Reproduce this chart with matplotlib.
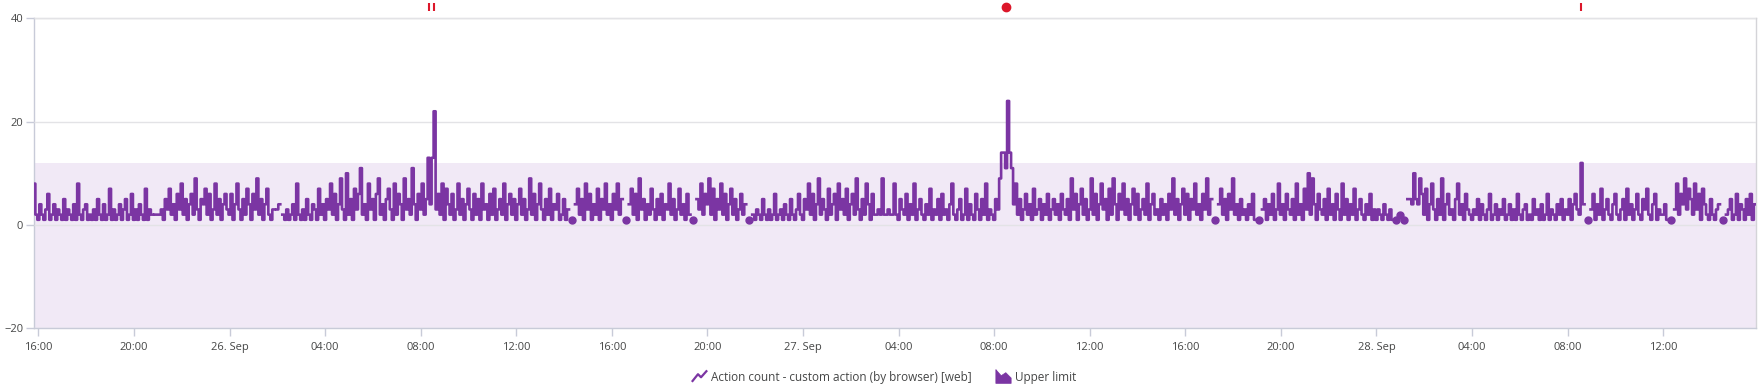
import datetime as dt
import numpy as np
import matplotlib
matplotlib.use('Agg')
import matplotlib.pyplot as plt
import matplotlib.dates as mdates
from matplotlib.lines import Line2D
from matplotlib.path import Path
from matplotlib.ticker import FuncFormatter
import matplotlib.transforms as mtransforms

N = None  # gap in the series

# action count, one value per 5 minutes
d25_pm = [8, 2,
          1, 4, 2, 1, 3, 6, 1, 2, 4, 1, 3, 2, 1, 5, 1, 3, 2, 1, 4, 1, 8, 2, 1, 3, 4, 1, 2, 1, 3, 1, 5, 2, 1, 4, 1, 2, 7, 1, 3, 1, 2, 4, 1, 3, 5, 1, 2, 6,
          1, 3, 1, 4, 2, 1, 7, 1, 3, 2, N, 2, 2, 2, 3,
          1, 5, 3, 7, 2, 4, 1, 6, 3, 8, 2, 5, 1, 4, 6, 2, 9, 3, 1, 5, 4, 7, 2, 6, 1, 3, 8, 2, 5, 1, 4, 6, 3]
d26_night = [2, 6, 1, 4, 8, 3, 1, 5, 2, 7, 4, 1, 6, 3, 9, 2, 5, 1, 4, 7, 2,
             1, 3, N, 3, 4, N, 2,
             1, 3, 1, 2, 4, 1, 8, 2, 1, 3, 1, 5, 2, 1, 4, 3, 1, 7, 2, 4,
             1, 5, 3, 8, 2, 6, 1, 4, 9, 3, 1, 10, 2, 5, 1, 7, 3, 6, 11, 2, 4, 1, 8, 3, 5, 1, 6, 9, 2, 4, 1, 5, 7, 3, 1, 8, 2, 6, 4, 1, 9, 3, 5, 2, 11, 4, 1, 6]
d26_day = [3, 8, 2, 5, 13, 4, 13, 22, 3, 6, 2, 8,
           1, 7, 4, 2, 6, 1, 3, 8, 2, 5, 1, 4, 7, 3, 1, 6, 2, 5, 1, 8, 3, 4, 1, 6, 2, 7, 1, 3, 5, 2, 8, 1, 4, 6, 2, 5,
           1, 4, 7, 2, 5, 1, 3, 9, 2, 6, 1, 4, 8, 3, 1, 5, 2, 7, 1, 4, 3, 6, 1, 2, 5, 1, 3, N, 1, N, 4, 7, 2, 5, 1, 8, 3, 6, 1, 4, 2, 7, 1, 5, 3, 8, 2, 4]
d26_eve = [1, 6, 3, 8, 2, 5, N, 1, N, 4, 7, 2, 6, 1, 9, 3, 5, 1, 4, 2, 7, 3, 1, 5, 2, 6, 1, 4, 3, 8, 2, 5, 1, 3, 7, 2, 4, 1, 6, 2, N, 1, N, 5, 3, 8, 2, 6,
           4, 9, 2, 7, 1, 5, 3, 8, 2, 6, 1, 4, 7, 2, 5, 1, 3, 6, 2, 4, N, 1, N, 2, 1, 3, 2, 1, 5, 2, 1, 3, 1, 2, 6, 1, 2, 3, 1, 4, 2, 1, 5, 2, 1, 3, 6, 2]
d27_night = [1, 5, 3, 8, 2, 6, 1, 4, 9, 2, 5, 3, 1, 7, 2, 4, 6, 1, 8, 3, 5, 2, 7, 1, 4, 6, 2, 9, 3, 1, 5, 2, 8, 4, 1, 6,
             2, 2, 3, 2, 9, 2, 2, 3, 2, 2, 8, 2,
             1, 5, 3, 2, 6, 1, 4, 2, 8, 1, 3, 5, 2, 1, 4, 2, 7, 1, 3, 2, 5, 1, 6, 2, 3, 1, 4, 8, 2, 1, 3, 5, 1, 2, 7, 1, 4, 2, 1, 6, 3, 1, 5, 2, 8, 1, 3, 2]
d27_day = [1, 5, 3, 9, 14, 14, 11, 24, 14, 11, 4, 8,
           2, 5, 1, 3, 6, 2, 4, 1, 7, 2, 3, 5, 1, 4, 2, 6, 1, 3, 5, 2, 4, 1, 6, 3, 2, 5, 1, 9, 3, 6, 1, 4, 7, 2, 5, 1,
           3, 9, 2, 6, 1, 4, 8, 3, 5, 1, 7, 2, 9, 4, 1, 6, 3, 8, 2, 5, 1, 4, 7, 2, 6, 1, 3, 5, 2, 8, 1, 4, 6, 2, 3, 1, 5, 2, 4, 1, 6, 3, 9, 2, 5, 1, 4, 7]
d27_eve = [2, 6, 1, 5, 3, 8, 2, 4, 1, 6, 3, 9, 2, 5, N, 1, N, 4, 7, 2, 5, 1, 6, 3, 9, 2, 4, 1, 5, 2, 3, 1, 4, 2, 6, 1, N, 1, N, 3, 5, 1, 4, 2, 6, 1, 3, 8,
           2, 4, 1, 6, 3, 2, 5, 1, 8, 2, 4, 1, 7, 3, 10, 2, 9, 4, 1, 6, 3, 2, 5, 1, 7, 2, 4, 1, 6, 3, 1, 8, 2, 5, 1, 4, 2, 7, 1, 3, 5, 2, 1, 4, 2, 6, 1, 3]
d28_night = [1, 3, 2, 1, 4, 2, 1, 3, 1, N, 1, N, 2, N, 1, N, 5, 5, 4, 10, 5, 4, 9, 6,
             2, 7, 1, 4, 8, 3, 1, 5, 2, 9, 1, 4, 6, 2, 3, 1, 5, 8, 2, 4, 1, 6, 3, 2,
             1, 3, 2, 5, 1, 4, 2, 1, 3, 6, 1, 2, 4, 1, 3, 2, 5, 1, 2, 4, 1, 3, 1, 6, 2, 1, 3, 4, 1, 2, 1, 5, 2, 3, 1, 4, 1, 2, 6, 1, 3, 2, 1, 4, 2, 5, 1, 3]
d28_day = [2, 5, 1, 4, 6, 3, 2, 12, 4, N, 1, N,
           3, 6, 1, 4, 2, 7, 1, 3, 5, 2, 1, 4, 6, 2, 1, 3, 5, 1, 7, 2, 4, 1, 3, 6, 2, 1, 5, 3, 7, 2, 1, 4, 6, 1, 3, 2,
           2, 4, 1, N, 1, N, 3, 8, 2, 6, 4, 9, 3, 7, 5, 2, 8, 3, 6, 1, 7, 4, 2, 1, 5, 2, 1, 3, 4, N, 1, N, 2, 3, 5, 1, 2, 6, 1, 4, 3, 1, 5, 2, 6, 1, 4]

block_starts = [dt.datetime(2023, 9, 25, 15, 50), dt.datetime(2023, 9, 26, 0, 0),
                dt.datetime(2023, 9, 26, 8, 0), dt.datetime(2023, 9, 26, 16, 0),
                dt.datetime(2023, 9, 27, 0, 0), dt.datetime(2023, 9, 27, 8, 0),
                dt.datetime(2023, 9, 27, 16, 0), dt.datetime(2023, 9, 28, 0, 0),
                dt.datetime(2023, 9, 28, 8, 0)]
blocks = [d25_pm, d26_night, d26_day, d26_eve, d27_night, d27_day, d27_eve, d28_night, d28_day]

upper_limit = 11.9
event_times = [dt.datetime(2023, 9, 26, 8, 20), dt.datetime(2023, 9, 26, 8, 34),
               dt.datetime(2023, 9, 27, 8, 29), dt.datetime(2023, 9, 28, 8, 34)]
event_kinds = ['tick', 'tick', 'dot', 'tick']

x_start = dt.datetime(2023, 9, 25, 15, 50)
x_end = dt.datetime(2023, 9, 28, 15, 53)

PURPLE = '#7b35a3'
BAND = '#f1e9f6'
RED = '#dc172a'
GRID = '#e3e3e6'
TEXT = '#454646'

times, values = [], []
for start, vals in zip(block_starts, blocks):
    for i, v in enumerate(vals):
        times.append(start + dt.timedelta(minutes=5 * i))
        values.append(np.nan if v is None else v)
times = np.array(times)
values = np.array(values, dtype=float)

# isolated points (gaps on both sides) get a dot like the original
valid = ~np.isnan(values)
prev_ok = np.r_[False, valid[:-1]]
next_ok = np.r_[valid[1:], False]
isolated = valid & ~prev_ok & ~next_ok

plt.rcParams['font.family'] = ['Open Sans', 'DejaVu Sans']

fig = plt.figure(figsize=(17.62, 3.86), dpi=100)
ax = fig.add_axes([0.0195, 0.1495, 0.9771, 0.8031])

ax.fill_between([x_start, x_end], [-20, -20], [upper_limit, upper_limit],
                color=BAND, lw=0, zorder=1)
ax.plot(times, values, color=PURPLE, lw=1.9, zorder=3, drawstyle='steps-mid')
ax.plot(times[isolated], values[isolated], 'o', color=PURPLE, ms=5, zorder=3)

ax.set_xlim(x_start, x_end)
ax.set_ylim(-20, 40)
ax.set_yticks([-20, 0, 20, 40])
ax.yaxis.grid(True, color=GRID, lw=1, zorder=0)
ax.set_axisbelow(False)
for g in ax.get_ygridlines():
    g.set_zorder(2)

ax.xaxis.set_major_locator(mdates.HourLocator(byhour=[0, 4, 8, 12, 16, 20]))


def fmt_time(x, pos):
    d = mdates.num2date(x)
    if d.hour == 0:
        return d.strftime('%d. %b')
    return d.strftime('%H:%M')


ax.xaxis.set_major_formatter(FuncFormatter(fmt_time))
ax.tick_params(axis='x', colors='#c8cbd8', labelcolor=TEXT, labelsize=8, length=6, width=1, pad=4)
ax.tick_params(axis='y', colors='#c8cbd8', labelcolor=TEXT, labelsize=8, length=6, width=1, pad=2)

for side in ['left', 'bottom']:
    ax.spines[side].set_color('#c8cbd8')
for side in ['top', 'right']:
    ax.spines[side].set_color('#d4d4d8')
for s in ax.spines.values():
    s.set_linewidth(1)

# problem / event markers above the plot area
trans = mtransforms.blended_transform_factory(ax.transData, ax.transAxes)
for t, kind in zip(event_times, event_kinds):
    if kind == 'dot':
        ax.plot([t], [1.038], 'o', color=RED, ms=6, transform=trans, clip_on=False)
    else:
        ax.plot([t, t], [1.025, 1.05], color=RED, lw=1.5, transform=trans, clip_on=False,
                solid_capstyle='butt')

# legend icons: small zigzag for the line, little mountain for the area
zigzag = Path([(-1, -0.7), (-0.2, 0.3), (0.2, -0.1), (1, 0.8)])
mountain = Path([(-1, 0.9), (-0.3, 0.1), (0.3, 0.5), (1, -0.2), (1, -0.9), (-1, -0.9), (-1, 0.9)])
handles = [Line2D([0], [0], ls='none', marker=zigzag, ms=11, mfc='none', mec=PURPLE, mew=1.6),
           Line2D([0], [0], ls='none', marker=mountain, ms=11, mfc=PURPLE, mec=PURPLE, mew=0.5)]
labels = ['Action count - custom action (by browser) [web]', 'Upper limit']
fig.legend(handles, labels, loc='center', bbox_to_anchor=(0.502, 0.023), ncol=2,
           frameon=False, fontsize=8.5, labelcolor=TEXT, handlelength=1.0,
           handletextpad=0.5, columnspacing=2.2)

fig.savefig('out.png', dpi=100)
